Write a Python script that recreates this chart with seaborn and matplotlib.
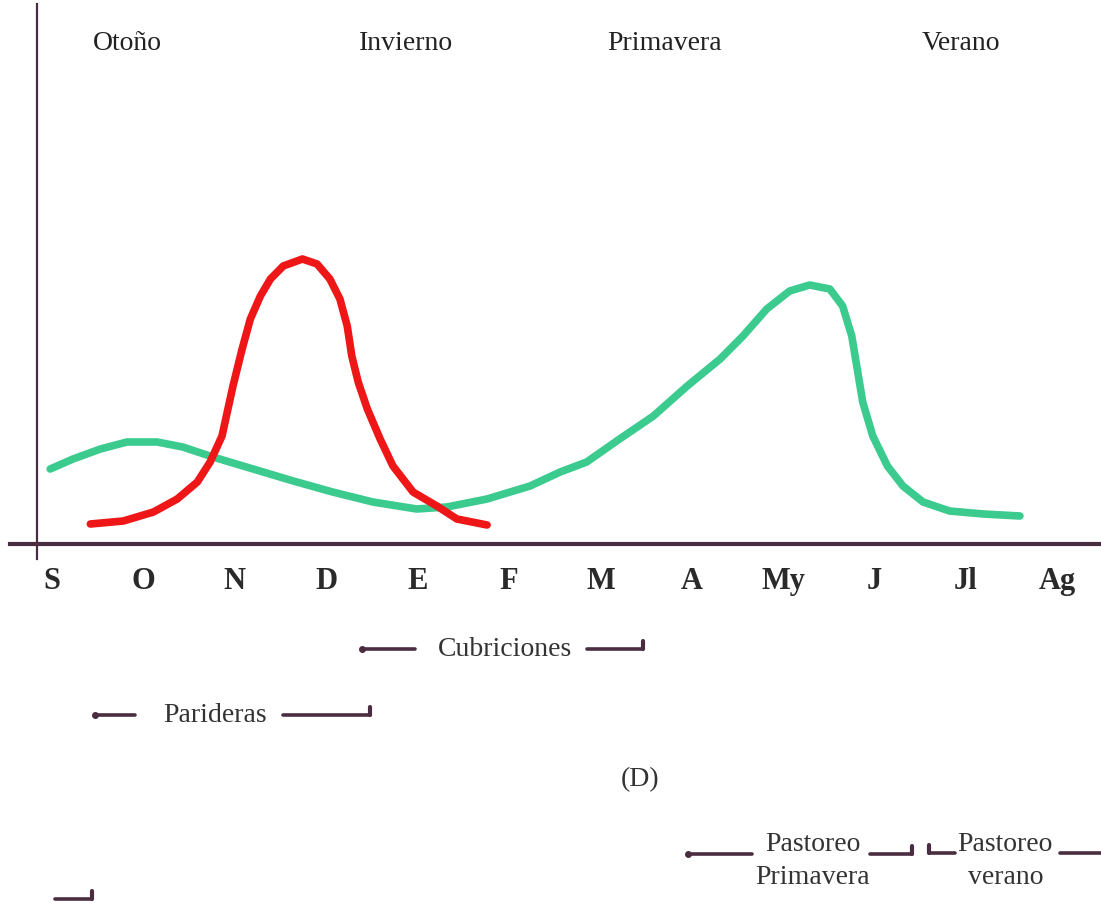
import numpy as np
import pandas as pd
import matplotlib
matplotlib.use("Agg")
import matplotlib.pyplot as plt
import seaborn as sns

# ---------------- data ----------------
months = ["S", "O", "N", "D", "E", "F", "M", "A", "My", "J", "Jl", "Ag"]
seasons = ["Otoño", "Invierno", "Primavera", "Verano"]

# red curve (month position, relative height)
red_x = [0.42, 0.78, 1.11, 1.37, 1.59, 1.73, 1.86, 1.98, 2.08, 2.17, 2.28, 2.39,
         2.53, 2.74, 2.90, 3.04, 3.15, 3.23, 3.28, 3.35, 3.45, 3.59, 3.73,
         3.95, 4.21, 4.43, 4.76]
red_y = [20, 23, 32, 45, 62, 82, 108, 158, 195, 225, 248, 265,
         278, 285, 280, 265, 245, 218, 188, 162, 135, 105, 78,
         52, 38, 25, 19]

# green curve
green_x = [-0.02, 0.23, 0.53, 0.82, 1.15, 1.43, 1.76, 2.20, 2.64, 3.07, 3.51,
           3.99, 4.32, 4.76, 5.23, 5.56, 5.85, 6.21, 6.58, 6.95, 7.31, 7.56,
           7.82, 8.07, 8.29, 8.51, 8.65, 8.75, 8.81, 8.87, 8.98, 9.14, 9.31,
           9.53, 9.82, 10.19, 10.59]
green_y = [75, 85, 95, 102, 102, 97, 87, 75, 63, 52, 42,
           35, 37, 45, 58, 72, 82, 105, 128, 158, 185, 208,
           235, 253, 259, 255, 238, 208, 175, 142, 108, 78, 58,
           42, 33, 30, 28]

# periods (label, start, end) in month positions
period_labels = ["Cubriciones", "Parideras", "Pastoreo\nPrimavera", "Pastoreo\nverano"]
period_start = [3.39, 0.47, 6.96, 9.60]
period_end = [6.47, 3.48, 9.41, 11.48]

# ---------------- style ----------------
sns.set_theme(style="white")
plt.rcParams["font.family"] = ["Liberation Serif", "DejaVu Serif"]

INK = "#4a2d40"
TXT = "#333333"

fig = plt.figure(figsize=(11.01, 9.04), dpi=100)
ax = fig.add_axes([0, 0, 1, 1])
ax.set_xlim(-0.569, 11.477)
ax.set_ylim(-359, 545)

df = pd.concat([
    pd.DataFrame({"mes": green_x, "valor": green_y, "curva": "verde"}),
    pd.DataFrame({"mes": red_x, "valor": red_y, "curva": "rojo"}),
], ignore_index=True)

sns.lineplot(data=df, x="mes", y="valor", hue="curva",
             palette={"verde": "#3ccb8f", "rojo": "#ee1616"},
             sort=False, estimator=None, legend=False, linewidth=5.5, ax=ax)
for ln in ax.lines:
    ln.set_solid_capstyle("round")
    ln.set_solid_joinstyle("round")

# axes lines
for s in ["top", "right"]:
    ax.spines[s].set_visible(False)
ax.spines["bottom"].set_position(("data", 0))
ax.spines["bottom"].set_bounds(-0.46, 11.477)
ax.spines["bottom"].set_linewidth(3.0)
ax.spines["bottom"].set_color(INK)
ax.spines["left"].set_position(("data", -0.164))
ax.spines["left"].set_bounds(-15, 540)
ax.spines["left"].set_linewidth(1.6)
ax.spines["left"].set_color(INK)

ax.set_xticks(range(len(months)))
ax.set_xticklabels(months, fontsize=22, fontweight="bold", color="#2a2a2a")
ax.tick_params(axis="x", length=0, pad=16)
ax.set_yticks([])
ax.set_xlabel("")
ax.set_ylabel("")

# season labels
season_x = [0.82, 3.87, 6.70, 9.95]
for name, sx in zip(seasons, season_x):
    ax.text(sx, 502, name, ha="center", va="center", fontsize=20, color="#222222")

# period brackets
ly = [-105, -171, -310, -309]
ty = [-105, -171, -316, -316]
text_x = [4.96, 1.78, 8.32, 10.43]
left_ends = [3.97, 0.91, 7.66, 9.88]
right_starts = [5.85, 2.53, 8.95, 11.03]
for i, (lab, a, b) in enumerate(zip(period_labels, period_start, period_end)):
    y = ly[i]
    ax.text(text_x[i], ty[i], lab, ha="center", va="center", fontsize=20, color=TXT,
            linespacing=1.4)
    ax.plot([a, left_ends[i]], [y, y], color=INK, lw=2.6, solid_capstyle="round")
    ax.plot([right_starts[i], b], [y, y], color=INK, lw=2.6, solid_capstyle="round")
    if i in (0, 1, 2):
        ax.plot([b, b], [y, y + 8], color=INK, lw=3.0, solid_capstyle="round")
    if i == 3:
        ax.plot([a, a], [y, y + 8], color=INK, lw=3.0, solid_capstyle="round")
    else:
        ax.plot([a], [y], marker="o", ms=4, color=INK)

# small bracket bottom-left
ax.plot([0.03, 0.44], [-355, -355], color=INK, lw=2.6, solid_capstyle="round")
ax.plot([0.44, 0.44], [-355, -347], color=INK, lw=3.0, solid_capstyle="round")

ax.text(6.43, -235, "(D)", ha="center", va="center", fontsize=20, color=TXT)

fig.savefig("out.png", dpi=100, facecolor="white")
